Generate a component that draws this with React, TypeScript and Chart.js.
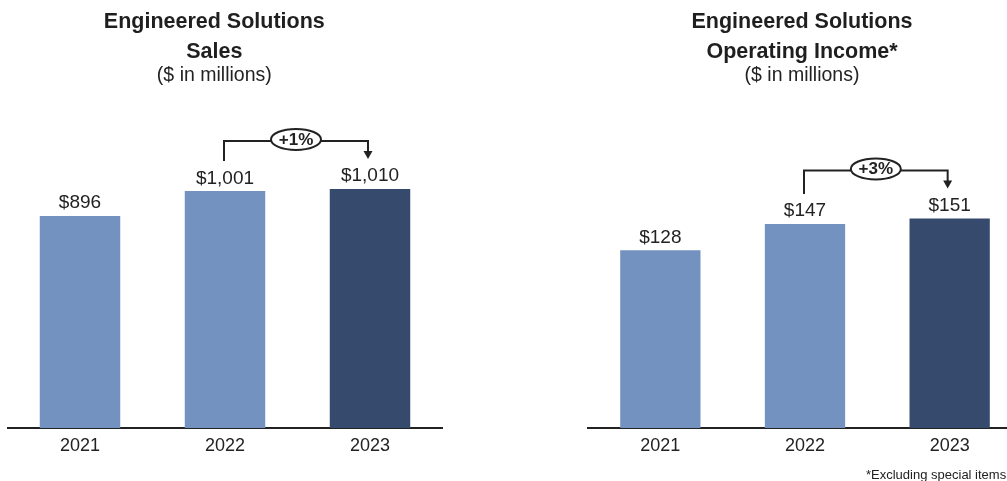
import React, { useEffect, useRef } from 'react';
import { Chart, registerables } from 'chart.js';

Chart.register(...registerables);

const FONT = '"Liberation Sans", Arial, sans-serif';

const years = ['2021', '2022', '2023'];
const salesValues = [896, 1001, 1010];
const incomeValues = [128, 147, 151];
const salesLabels = ['$896', '$1,001', '$1,010'];
const incomeLabels = ['$128', '$147', '$151'];
const salesTitle = ['Engineered Solutions', 'Sales'];
const incomeTitle = ['Engineered Solutions', 'Operating Income*'];
const subtitleText = '($ in millions)';
const salesChange = '+1%';
const incomeChange = '+3%';
const footnoteText = '*Excluding special items';
const barColors = ['#7492BF', '#7492BF', '#364A6E'];

type PanelCfg = {
  values: number[];
  labels: string[];
  title: string[];
  change: string;
  titleX: number;
  yMax: number;
  padTop: number;
  padLeft: number;
  footnote?: string;
  footX?: number;
};

function makeAnnotate(cfg: PanelCfg) {
  return {
    id: 'annotate',
    afterDatasetsDraw(chart: any) {
      const ctx = chart.ctx as CanvasRenderingContext2D;
      const meta = chart.getDatasetMeta(0);
      ctx.save();
      // value labels
      ctx.font = `19px ${FONT}`;
      ctx.fillStyle = '#222';
      ctx.textAlign = 'center';
      ctx.textBaseline = 'alphabetic';
      meta.data.forEach((bar: any, i: number) => {
        ctx.fillText(cfg.labels[i], bar.x, bar.y - 7.5);
      });
      // change bracket between last two bars
      const a = meta.data[1];
      const b = meta.data[2];
      const x1 = a.x - 1;
      const x2 = b.x - 2;
      const yTop = Math.min(a.y, b.y) - 48;
      const y1 = a.y - 30;
      const y2 = b.y - 30;
      ctx.strokeStyle = '#222';
      ctx.lineWidth = 2;
      ctx.beginPath();
      ctx.moveTo(x1, y1);
      ctx.lineTo(x1, yTop);
      ctx.lineTo(x2, yTop);
      ctx.lineTo(x2, y2 - 6);
      ctx.stroke();
      ctx.fillStyle = '#222';
      ctx.beginPath();
      ctx.moveTo(x2 - 4.5, y2 - 8);
      ctx.lineTo(x2 + 4.5, y2 - 8);
      ctx.lineTo(x2, y2);
      ctx.closePath();
      ctx.fill();
      const cx = (x1 + x2) / 2;
      const cy = yTop - 1.5;
      ctx.beginPath();
      ctx.ellipse(cx, cy, 25, 10.5, 0, 0, Math.PI * 2);
      ctx.fillStyle = '#fff';
      ctx.fill();
      ctx.stroke();
      ctx.fillStyle = '#222';
      ctx.font = `bold 17px ${FONT}`;
      ctx.textBaseline = 'middle';
      ctx.fillText(cfg.change, cx, cy + 0.5);
      ctx.restore();
    },
    afterDraw(chart: any) {
      const ctx = chart.ctx as CanvasRenderingContext2D;
      ctx.save();
      ctx.fillStyle = '#1f1f1f';
      ctx.textAlign = 'center';
      ctx.textBaseline = 'alphabetic';
      ctx.font = `bold 21.5px ${FONT}`;
      ctx.fillText(cfg.title[0], cfg.titleX, 28);
      ctx.fillText(cfg.title[1], cfg.titleX, 58);
      ctx.font = `19.5px ${FONT}`;
      ctx.fillStyle = '#222';
      ctx.fillText(subtitleText, cfg.titleX, 81);
      if (cfg.footnote) {
        ctx.font = `13px ${FONT}`;
        ctx.textAlign = 'left';
        ctx.fillText(cfg.footnote, cfg.footX || 0, 478.5);
      }
      ctx.restore();
    },
  };
}

function BarPanel({ left, cfg }: { left: number; cfg: PanelCfg }) {
  const ref = useRef<HTMLCanvasElement>(null);
  useEffect(() => {
    if (!ref.current) return;
    const chart = new Chart(ref.current, {
      type: 'bar',
      data: {
        labels: years,
        datasets: [
          {
            data: cfg.values,
            backgroundColor: barColors,
            borderWidth: 0,
            barPercentage: 0.555,
            categoryPercentage: 1,
          },
        ],
      },
      options: {
        animation: false,
        responsive: true,
        maintainAspectRatio: false,
        layout: { padding: { left: cfg.padLeft, right: cfg.padLeft, top: cfg.padTop, bottom: 0 } },
        plugins: {
          legend: { display: false },
          tooltip: { enabled: false },
          title: { display: false },
        },
        scales: {
          x: {
            grid: { display: false, drawTicks: false },
            border: { display: true, color: '#222', width: 2 },
            ticks: { color: '#222', font: { size: 18, family: FONT }, padding: 7 },
            afterFit: (s: any) => {
              s.height = 53;
            },
          },
          y: { display: false, min: 0, max: cfg.yMax },
        },
      },
      plugins: [makeAnnotate(cfg)],
    } as any);
    return () => chart.destroy();
  }, []);
  return (
    <div style={{ position: 'absolute', left, top: 0, width: 450, height: 481 }}>
      <canvas ref={ref} />
    </div>
  );
}

export default function App() {
  const salesCfg: PanelCfg = {
    values: salesValues,
    labels: salesLabels,
    title: salesTitle,
    change: salesChange,
    titleX: 214.3,
    yMax: 1200,
    padTop: 144,
    padLeft: 7.5,
  };
  const incomeCfg: PanelCfg = {
    values: incomeValues,
    labels: incomeLabels,
    title: incomeTitle,
    change: incomeChange,
    titleX: 222,
    yMax: 200,
    padTop: 150.4,
    padLeft: 8,
    footnote: footnoteText,
    footX: 286,
  };
  return (
    <div
      style={{
        position: 'fixed',
        left: 0,
        top: 0,
        width: 1007,
        height: 481,
        overflow: 'hidden',
        background: '#fff',
      }}
    >
      <BarPanel left={0} cfg={salesCfg} />
      <BarPanel left={580} cfg={incomeCfg} />
    </div>
  );
}
